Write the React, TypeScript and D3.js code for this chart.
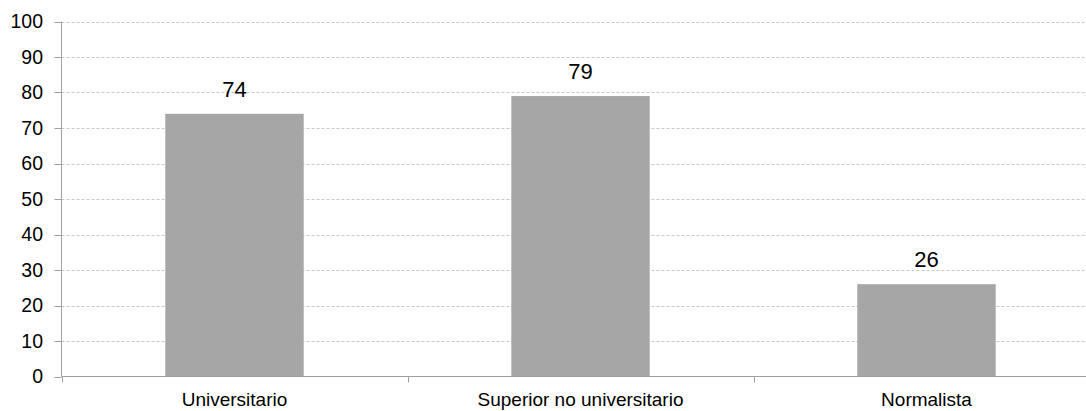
import React, { useEffect, useRef } from 'react';
import * as d3 from 'd3';

const categories = ['Universitario', 'Superior no universitario', 'Normalista'];
const values = [74, 79, 26];
const yTicks = [0, 10, 20, 30, 40, 50, 60, 70, 80, 90, 100];

export default function App() {
  const svgRef = useRef<SVGSVGElement>(null);

  useEffect(() => {
    if (!svgRef.current) return;
    const svg = d3.select(svgRef.current);
    svg.selectAll('*').remove();

    const width = 1086;
    const height = 411;
    const left = 61.5;
    const band = 346;
    const top = 21.5;
    const bottom = 376.5;
    const font = 'Liberation Sans, Arial, sans-serif';

    const x = d3.scaleBand<string>()
      .domain(categories)
      .range([left, left + band * categories.length])
      .paddingInner(0.6)
      .paddingOuter(0.3);

    const y = d3.scaleLinear().domain([0, 100]).range([bottom, top]);

    // gridlines
    svg.append('g')
      .selectAll('line')
      .data(yTicks.filter(t => t > 0))
      .enter()
      .append('line')
      .attr('x1', left)
      .attr('x2', width)
      .attr('y1', d => Math.round(y(d)) + 0.5)
      .attr('y2', d => Math.round(y(d)) + 0.5)
      .attr('stroke', '#c8c8c8')
      .attr('stroke-width', 1)
      .attr('stroke-dasharray', '3,2');

    // bars
    svg.append('g')
      .selectAll('rect')
      .data(values)
      .enter()
      .append('rect')
      .attr('x', (d, i) => x(categories[i])!)
      .attr('width', x.bandwidth())
      .attr('y', d => y(d))
      .attr('height', d => bottom - y(d))
      .attr('fill', '#a6a6a6');

    // value labels
    svg.append('g')
      .selectAll('text')
      .data(values)
      .enter()
      .append('text')
      .attr('x', (d, i) => x(categories[i])! + x.bandwidth() / 2)
      .attr('y', d => y(d) - 17)
      .attr('text-anchor', 'middle')
      .attr('font-family', font)
      .attr('font-size', 22)
      .attr('fill', '#000')
      .text(d => d);

    // y axis
    svg.append('line')
      .attr('x1', left).attr('x2', left)
      .attr('y1', top).attr('y2', bottom)
      .attr('stroke', '#a0a0a0');

    const yt = svg.append('g');
    yt.selectAll('line')
      .data(yTicks)
      .enter()
      .append('line')
      .attr('x1', left - 7).attr('x2', left)
      .attr('y1', d => Math.round(y(d)) + 0.5)
      .attr('y2', d => Math.round(y(d)) + 0.5)
      .attr('stroke', '#a0a0a0');
    yt.selectAll('text')
      .data(yTicks)
      .enter()
      .append('text')
      .attr('x', 43)
      .attr('y', d => y(d))
      .attr('dy', '0.35em')
      .attr('text-anchor', 'end')
      .attr('font-family', font)
      .attr('font-size', 19.5)
      .attr('fill', '#000')
      .text(d => d);

    // x axis
    svg.append('line')
      .attr('x1', left).attr('x2', width)
      .attr('y1', bottom).attr('y2', bottom)
      .attr('stroke', '#a0a0a0');

    const boundaries = d3.range(categories.length + 1).map(i => left + band * i);
    svg.append('g')
      .selectAll('line')
      .data(boundaries)
      .enter()
      .append('line')
      .attr('x1', d => Math.round(d) + 0.5)
      .attr('x2', d => Math.round(d) + 0.5)
      .attr('y1', bottom)
      .attr('y2', bottom + 6)
      .attr('stroke', '#a0a0a0');

    svg.append('g')
      .selectAll('text')
      .data(categories)
      .enter()
      .append('text')
      .attr('x', d => x(d)! + x.bandwidth() / 2)
      .attr('y', 406)
      .attr('text-anchor', 'middle')
      .attr('font-family', font)
      .attr('font-size', 19)
      .attr('fill', '#000')
      .text(d => d);

    svg.attr('width', width).attr('height', height);
  }, []);

  return (
    <svg
      ref={svgRef}
      width="1086"
      height="411"
      style={{ position: 'absolute', left: 0, top: 0, background: '#fff' }}
    ></svg>
  );
}
